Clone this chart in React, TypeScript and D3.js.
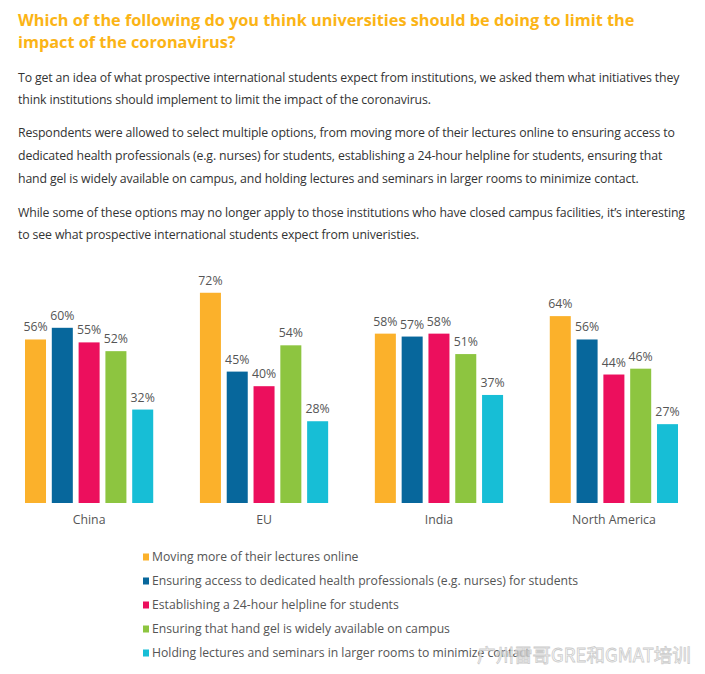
import React from "react";
import * as d3 from "d3";

const regions = ["China", "EU", "India", "North America"];
const seriesNames = [
  "Moving more of their lectures online",
  "Ensuring access to dedicated health professionals (e.g. nurses) for students",
  "Establishing a 24-hour helpline for students",
  "Ensuring that hand gel is widely available on campus",
  "Holding lectures and seminars in larger rooms to minimize contact",
];
const colors = ["#FBB12B", "#07679C", "#EC0F5D", "#8DC540", "#17BED6"];
const online = [56, 72, 58, 64];
const health = [60, 45, 57, 56];
const helpline = [55, 40, 58, 44];
const handGel = [52, 54, 51, 46];
const largerRooms = [32, 28, 37, 27];
const series = [online, health, helpline, handGel, largerRooms];

const titleLines = [
  "Which of the following do you think universities should be doing to limit the",
  "impact of the coronavirus?",
];
const paragraphs = [
  [
    "To get an idea of what prospective international students expect from institutions, we asked them what initiatives they",
    "think institutions should implement to limit the impact of the coronavirus.",
  ],
  [
    "Respondents were allowed to select multiple options, from moving more of their lectures online to ensuring access to",
    "dedicated health professionals (e.g. nurses) for students, establishing a 24-hour helpline for students, ensuring that",
    "hand gel is widely available on campus, and holding lectures and seminars in larger rooms to minimize contact.",
  ],
  [
    "While some of these options may no longer apply to those institutions who have closed campus facilities, it\u2019s interesting",
    "to see what prospective international students expect from univeristies.",
  ],
];

const W = 705;
const H = 674;
const baseY = 503;

export default function App() {
  const x0 = d3.scaleBand<string>().domain(regions).range([25, 678]).paddingInner(0.267).paddingOuter(0);
  const x1 = d3
    .scaleBand<number>()
    .domain(series.map((_, i) => i))
    .range([0, x0.bandwidth()])
    .paddingInner(0.216);
  const y = d3.scaleLinear().domain([0, 100]).range([baseY, baseY - 292]);

  const paraBaselines = [[82, 104], [137, 160, 183], [217, 239]];
  const font = "'Open Sans', 'Noto Sans', sans-serif";

  return (
    <svg
      width={W}
      height={H}
      style={{ position: "absolute", left: 0, top: 0, background: "#fff" }}
      fontFamily={font}
    >
      <rect width={W} height={H} fill="#fff" />
      {titleLines.map((t, i) => (
        <text key={i} x={18} y={26 + i * 22} fontSize={16.3} fontWeight={700} fill="#FBB416">
          {t}
        </text>
      ))}
      {paragraphs.map((p, pi) =>
        p.map((line, li) => (
          <text key={pi + "-" + li} x={18} y={paraBaselines[pi][li]} fontSize={12.3} fill="#333" letterSpacing={-0.13}>
            {line}
          </text>
        ))
      )}
      {regions.map((r, ri) => (
        <g key={r} transform={`translate(${x0(r)},0)`}>
          {series.map((s, si) => (
            <g key={si}>
              <rect
                x={x1(si)}
                y={y(s[ri])}
                width={x1.bandwidth()}
                height={baseY - y(s[ri])}
                fill={colors[si]}
              />
              <text
                x={(x1(si) as number) + x1.bandwidth() / 2}
                y={y(s[ri]) - 8}
                textAnchor="middle"
                fontSize={12.3}
                fill="#555"
              >
                {s[ri] + "%"}
              </text>
            </g>
          ))}
          <text x={x0.bandwidth() / 2} y={524} textAnchor="middle" fontSize={12.3} fill="#555">
            {r}
          </text>
        </g>
      ))}
      {seriesNames.map((n, i) => (
        <g key={n} transform={`translate(143,${557 + i * 24})`}>
          <rect x={0} y={-3.5} width={6} height={7} fill={colors[i]} />
          <text x={9} y={4.3} fontSize={12.2} fill="#555">
            {n}
          </text>
        </g>
      ))}
      <text
        x={477}
        y={662}
        fontSize={18.5}
        fill="#fff"
        stroke="#c4c4c4"
        strokeWidth={0.8}
        opacity={0.85}
        fontFamily="'Noto Sans CJK SC', sans-serif"
      >
        广州雷哥GRE和GMAT培训
      </text>
    </svg>
  );
}
